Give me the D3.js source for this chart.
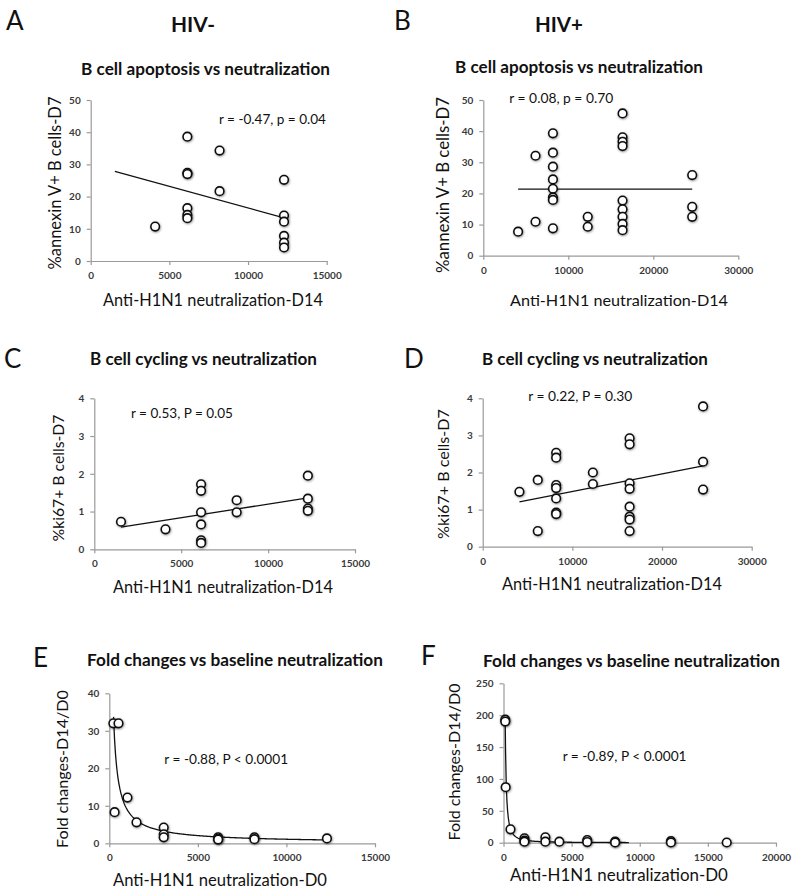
<!DOCTYPE html>
<html><head><meta charset="utf-8">
<script src="https://cdn.jsdelivr.net/npm/d3@7"></script>
<style>body{margin:0;background:#fff} text{font-family:Lato,"Open Sans",sans-serif}</style>
</head><body>
<svg id="c" width="800" height="894"></svg>
<script>
// ---------- DATA ----------
const groupLabels = ["HIV-", "HIV+"];
const panelLetters = ["A", "B", "C", "D", "E", "F"];
const titleApop = "B cell apoptosis vs neutralization";
const titleCyc = "B cell cycling vs neutralization";
const titleFold = "Fold changes vs baseline neutralization";
const ylabAnnexin = "%annexin V+ B cells-D7";
const ylabKi67 = "%ki67+ B cells-D7";
const ylabFold = "Fold changes-D14/D0";
const xlabD14 = "Anti-H1N1 neutralization-D14";
const xlabD0 = "Anti-H1N1 neutralization-D0";
const annotations = ["r = -0.47, p = 0.04", "r = 0.08, p = 0.70", "r = 0.53, P = 0.05",
                     "r = 0.22, P = 0.30", "r = -0.88, P < 0.0001", "r = -0.89, P < 0.0001"];

const xTicks15k = [0, 5000, 10000, 15000];
const xTicks20k = [0, 5000, 10000, 15000, 20000];
const xTicks30k = [0, 10000, 20000, 30000];
const yTicks50 = [0, 10, 20, 30, 40, 50];
const yTicks4 = [0, 1, 2, 3, 4];
const yTicks40 = [0, 10, 20, 30, 40];
const yTicks250 = [0, 50, 100, 150, 200, 250];

// A: HIV- apoptosis
const aX = [4096, 6144, 6144, 6144, 6144, 6144, 6144, 8192, 8192, 12288, 12288, 12288, 12288, 12288, 12288];
const aY = [10.7, 38.6, 27.4, 27.0, 16.4, 14.3, 13.3, 34.3, 21.7, 25.2, 14.1, 12.2, 7.8, 5.7, 4.2];
const aTrendX = [1536, 12288];
const aTrendY = [27.8, 13.4];

// B: HIV+ apoptosis
const bX = [4096, 6144, 6144, 8192, 8192, 8192, 8192, 8192, 8192, 8192, 8192, 12288, 12288,
            16384, 16384, 16384, 16384, 16384, 16384, 16384, 16384, 16384, 24576, 24576, 24576];
const bY = [7.7, 10.9, 32.1, 39.3, 33.1, 28.6, 24.5, 21.5, 18.7, 17.9, 8.8, 12.5, 9.3,
            45.7, 38.0, 36.6, 35.2, 17.7, 14.9, 12.5, 10.2, 8.2, 25.9, 15.7, 12.5];
const bTrendX = [4096, 24576];
const bTrendY = [21.4, 21.4];

// C: HIV- cycling
const cX = [1536, 4096, 6144, 6144, 6144, 6144, 6144, 6144, 8192, 8192, 12288, 12288, 12288, 12288];
const cY = [0.73, 0.53, 1.72, 1.55, 0.98, 0.66, 0.24, 0.17, 1.30, 0.98, 1.95, 1.34, 1.08, 1.02];
const cTrendX = [1536, 12288];
const cTrendY = [0.59, 1.36];

// D: HIV+ cycling
const dX = [4096, 6144, 6144, 8192, 8192, 8192, 8192, 8192, 8192, 8192, 12288, 12288,
            16384, 16384, 16384, 16384, 16384, 16384, 16384, 16384, 24576, 24576, 24576];
const dY = [1.48, 1.80, 0.42, 2.53, 2.40, 1.66, 1.58, 1.30, 0.92, 0.88, 2.0, 1.69,
            2.92, 2.76, 1.71, 1.56, 1.08, 0.81, 0.73, 0.42, 3.78, 2.29, 1.54];
const dTrendX = [4096, 24576];
const dTrendY = [1.21, 2.18];

// E: HIV- fold change vs baseline
const eX = [300, 230, 520, 1024, 1536, 3072, 3072, 3072, 6144, 6144, 6144, 8192, 8192, 12288];
const eY = [8.3, 32, 32, 12.2, 5.6, 4.2, 2.4, 1.6, 1.6, 1.2, 1.0, 1.6, 1.1, 1.3];
const eTrendA = 5277, eTrendB = -0.922, eTrendRange = [240, 12288];

// F: HIV+ fold change vs baseline
const fX = [128, 128, 160, 512, 1536, 1536, 1536, 3072, 3072, 4096, 6144, 6144, 8192, 8192, 12288, 12288, 16384];
const fY = [193, 190, 87, 21, 6.8, 3.1, 1.6, 8.4, 1.6, 1.6, 4.2, 1.0, 1.6, 0.5, 2.6, 0.5, 0.3];
const fTrendA = 308400, fTrendB = -1.53, fTrendRange = [128, 9200];

// ---------- DRAWING ----------
const svg = d3.select("#c");
const defs = svg.append("defs");
const flt = defs.append("filter").attr("id", "sh").attr("x", "-50%").attr("y", "-50%").attr("width", "200%").attr("height", "200%");
flt.append("feDropShadow").attr("dx", 0.6).attr("dy", 0.8).attr("stdDeviation", 0.8).attr("flood-color", "#000").attr("flood-opacity", 0.45);

function fitText(t, w) {
  const n = t.node();
  const m = n.getComputedTextLength();
  const cur = parseFloat(t.attr("font-size"));
  if (m > 0) t.attr("font-size", (cur * w / m).toFixed(2));
  return t;
}

function powerSamples(a, b, range) {
  const s = d3.scaleLog().domain(range);
  return s.ticks(200).concat([range[0], range[1]])
    .filter(v => v >= range[0] && v <= range[1])
    .sort((p, q) => p - q)
    .map(v => [v, a * Math.pow(v, b)]);
}

const panels = [
  {xs: aX, ys: aY, xDom: [0, 15000], yDom: [0, 50], xT: xTicks15k, yT: yTicks50,
   trend: d3.zip(aTrendX, aTrendY), title: titleApop, ylab: ylabAnnexin, xlab: xlabD14, ann: annotations[0],
   L: {xr: [90.7, 326.7], yr: [261, 100], title: [205.5, 75, 249], ylab: [61, 183, 173], xlab: [213, 306, 220], ann: [219, 124, 107]}},
  {xs: bX, ys: bY, xDom: [0, 30000], yDom: [0, 50], xT: xTicks30k, yT: yTicks50,
   trend: d3.zip(bTrendX, bTrendY), title: titleApop, ylab: ylabAnnexin, xlab: xlabD14, ann: annotations[1],
   L: {xr: [483.3, 738.3], yr: [255.7, 100], title: [579, 72.5, 248], ylab: [449, 185, 176], xlab: [619, 306, 218], ann: [509.3, 103, 104]}},
  {xs: cX, ys: cY, xDom: [0, 15000], yDom: [0, 4], xT: xTicks15k, yT: yTicks4,
   trend: d3.zip(cTrendX, cTrendY), title: titleCyc, ylab: ylabKi67, xlab: xlabD14, ann: annotations[2],
   L: {xr: [94.3, 355], yr: [549.3, 398.3], title: [203.5, 365, 227], ylab: [64, 478, 127], xlab: [223, 593, 220], ann: [131, 417.5, 102]}},
  {xs: dX, ys: dY, xDom: [0, 30000], yDom: [0, 4], xT: xTicks30k, yT: yTicks4,
   trend: d3.zip(dTrendX, dTrendY), title: titleCyc, ylab: ylabKi67, xlab: xlabD14, ann: annotations[3],
   L: {xr: [482.7, 751.7], yr: [546.7, 398.3], title: [595, 365, 226], ylab: [449, 474, 130], xlab: [612, 590, 220], ann: [528.3, 401, 104]}},
  {xs: eX, ys: eY, xDom: [0, 15000], yDom: [0, 40], xT: xTicks15k, yT: yTicks40,
   trend: powerSamples(eTrendA, eTrendB, eTrendRange), title: titleFold, ylab: ylabFold, xlab: xlabD0, ann: annotations[4],
   L: {xr: [109.3, 375], yr: [843.3, 693.3], title: [235, 666, 296], ylab: [68, 769, 158], xlab: [220, 886, 214], ann: [164.3, 764, 124]}},
  {xs: fX, ys: fY, xDom: [0, 20000], yDom: [0, 250], xT: xTicks20k, yT: yTicks250,
   trend: powerSamples(fTrendA, fTrendB, fTrendRange), title: titleFold, ylab: ylabFold, xlab: xlabD0, ann: annotations[5],
   L: {xr: [503.5, 776], yr: [842.7, 683.3], title: [631.5, 666.5, 297], ylab: [460, 762, 157], xlab: [619, 881, 218], ann: [562.7, 761, 124]}}
];

panels.forEach(p => {
  const L = p.L;
  const x = d3.scaleLinear().domain(p.xDom).range(L.xr);
  const y = d3.scaleLinear().domain(p.yDom).range(L.yr);
  const g = svg.append("g");

  // axes
  const xa = g.append("g").attr("transform", `translate(0,${L.yr[0]})`)
    .call(d3.axisBottom(x).tickValues(p.xT).tickFormat(d3.format("d")).tickSizeInner(4).tickSizeOuter(0).tickPadding(7));
  const ya = g.append("g").attr("transform", `translate(${L.xr[0]},0)`)
    .call(d3.axisLeft(y).tickValues(p.yT).tickFormat(d3.format("d")).tickSizeInner(4).tickSizeOuter(0).tickPadding(6));
  [xa, ya].forEach(a => {
    a.select(".domain").attr("stroke", "#9a9a9a").attr("stroke-width", 1.2);
    a.selectAll(".tick line").attr("stroke", "#9a9a9a").attr("stroke-width", 1.2);
    a.selectAll(".tick text").attr("fill", "#3a3a3a").attr("font-size", 10).attr("font-weight", 700)
      .attr("font-family", "Lato, sans-serif");
  });

  // trend
  g.append("path").datum(p.trend)
    .attr("d", d3.line().x(d => x(d[0])).y(d => y(d[1])))
    .attr("fill", "none").attr("stroke", "#111").attr("stroke-width", 1.3);

  // points
  g.append("g").selectAll("circle").data(d3.zip(p.xs, p.ys)).join("circle")
    .attr("cx", d => x(d[0])).attr("cy", d => y(d[1])).attr("r", 4.3)
    .attr("fill", "#fff").attr("stroke", "#111").attr("stroke-width", 1.6)
    .attr("filter", "url(#sh)");

  // texts
  const t = g.append("text").attr("x", L.title[0]).attr("y", L.title[1]).attr("text-anchor", "middle")
    .attr("font-weight", 700).attr("font-size", 15).attr("fill", "#111").text(p.title);
  fitText(t, L.title[2]);
  const yl = g.append("text").attr("transform", `translate(${L.ylab[0]},${L.ylab[1]}) rotate(-90)`)
    .attr("text-anchor", "middle").attr("font-size", 15).attr("fill", "#111").text(p.ylab);
  fitText(yl, L.ylab[2]);
  const xl = g.append("text").attr("x", L.xlab[0]).attr("y", L.xlab[1]).attr("text-anchor", "middle")
    .attr("font-size", 15).attr("fill", "#111").text(p.xlab);
  fitText(xl, L.xlab[2]);
  const an = g.append("text").attr("x", L.ann[0]).attr("y", L.ann[1])
    .attr("font-size", 12).attr("fill", "#111").text(p.ann);
  fitText(an, L.ann[2]);
});

// group headings and panel letters
const headPos = [[193, 32, 44], [559, 32, 48]];
groupLabels.forEach((s, i) => {
  const t = svg.append("text").attr("x", headPos[i][0]).attr("y", headPos[i][1]).attr("text-anchor", "middle")
    .attr("font-weight", 700).attr("font-size", 20).attr("fill", "#111").text(s);
  fitText(t, headPos[i][2]);
});
const letterPos = [[6, 30], [394, 30], [4, 368], [404, 368], [33, 667], [421, 665]];
panelLetters.forEach((s, i) => {
  svg.append("text").attr("x", letterPos[i][0]).attr("y", letterPos[i][1])
    .attr("font-size", 26).attr("fill", "#111").text(s);
});
</script>
</body></html>
